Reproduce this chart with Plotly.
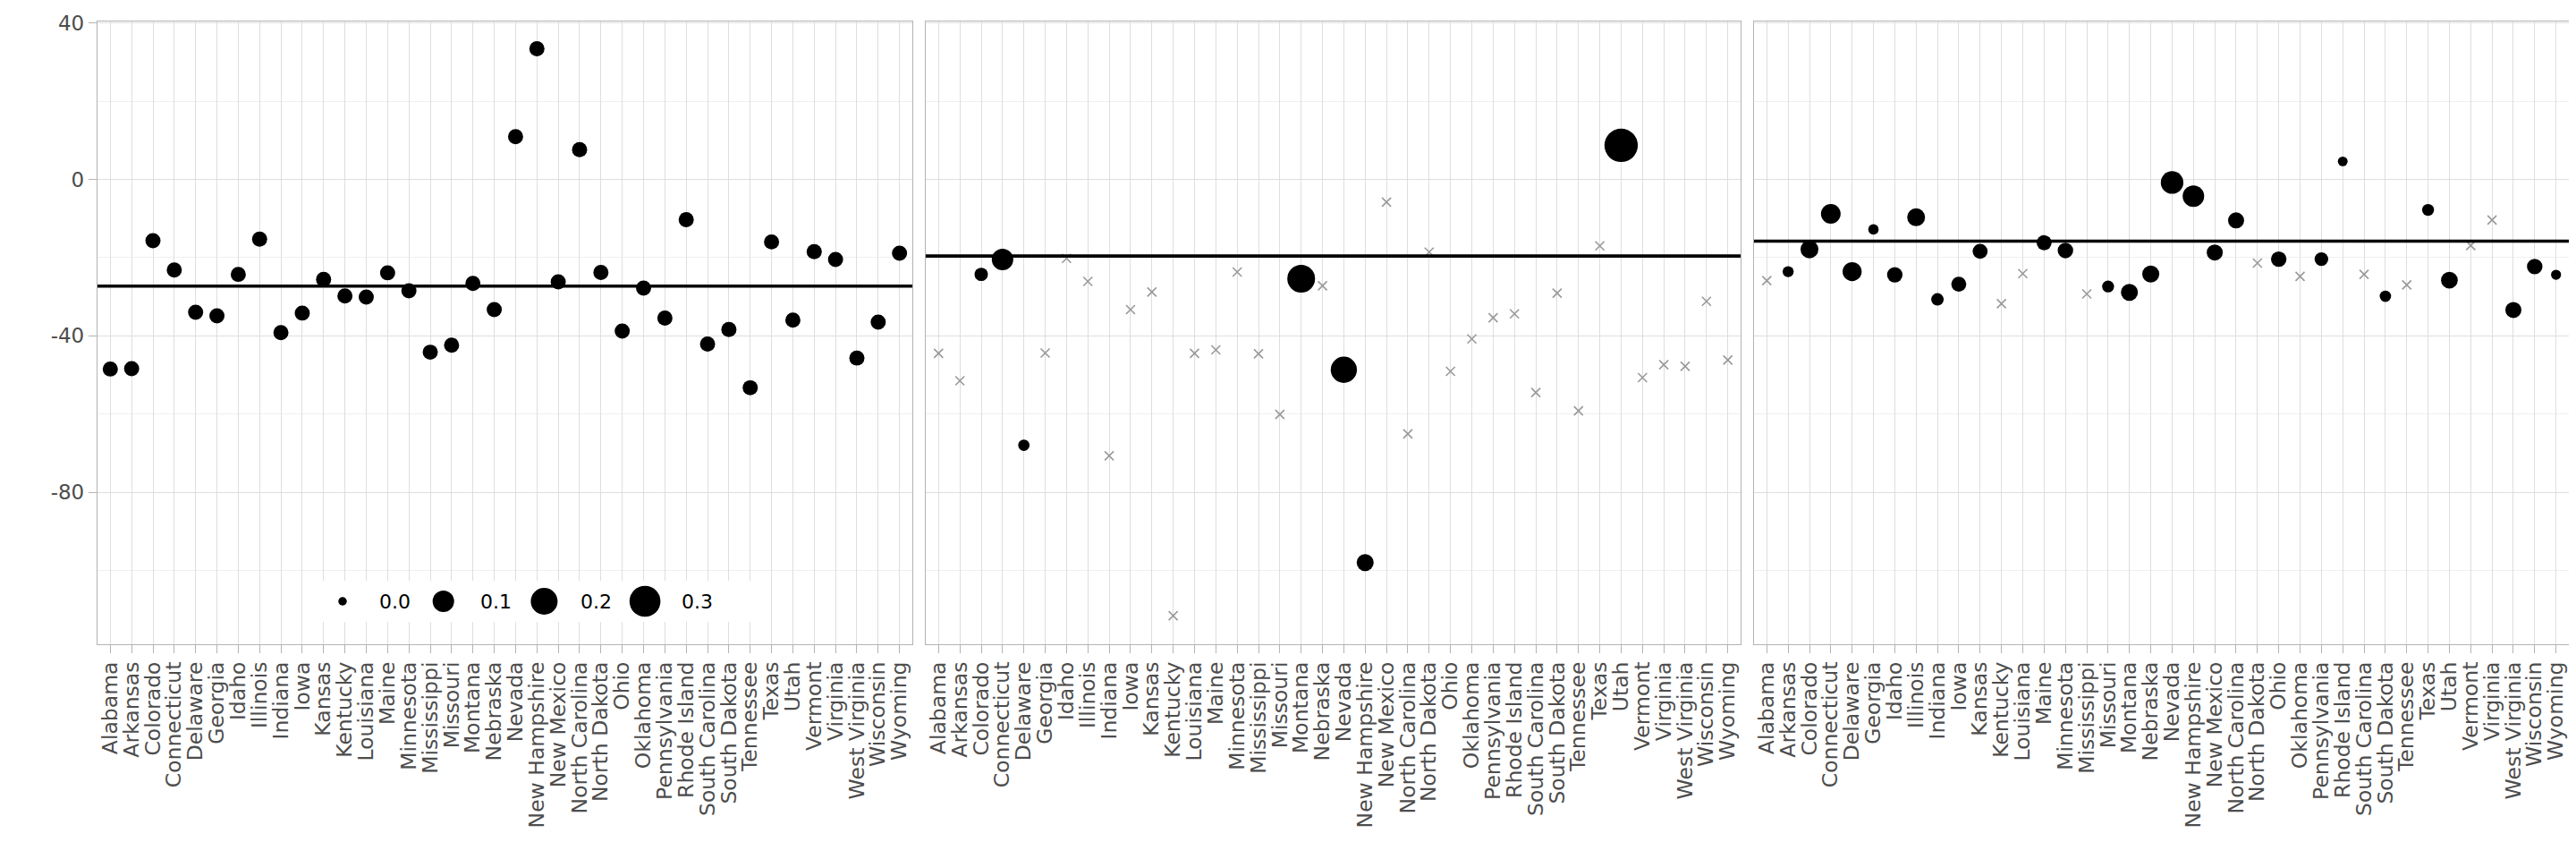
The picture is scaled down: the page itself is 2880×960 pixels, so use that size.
import numpy as np
import plotly.graph_objects as go

# ---------------- data ----------------
states = ["Alabama", "Arkansas", "Colorado", "Connecticut", "Delaware", "Georgia", "Idaho",
          "Illinois", "Indiana", "Iowa", "Kansas", "Kentucky", "Louisiana", "Maine",
          "Minnesota", "Mississippi", "Missouri", "Montana", "Nebraska", "Nevada",
          "New Hampshire", "New Mexico", "North Carolina", "North Dakota", "Ohio",
          "Oklahoma", "Pennsylvania", "Rhode Island", "South Carolina", "South Dakota",
          "Tennessee", "Texas", "Utah", "Vermont", "Virginia", "West Virginia",
          "Wisconsin", "Wyoming"]

# panel 1
values_1 = [-48.5, -48.4, -15.7, -23.2, -34.0, -34.9, -24.3, -15.3, -39.2, -34.2, -25.6,
            -29.8, -30.1, -23.9, -28.5, -44.2, -42.4, -26.6, -33.3, 10.9, 33.4, -26.2,
            7.6, -23.8, -38.8, -27.8, -35.5, -10.3, -42.1, -38.4, -53.3, -16.0, -36.0,
            -18.5, -20.5, -45.7, -36.5, -18.9]
weights_1 = [0.0263] * 38
mean_1 = -27.3

# panel 2
values_2 = [-44.5, -51.5, -24.3, -20.5, -68.0, -44.4, -20.2, -26.1, -70.7, -33.3, -28.8,
            -111.6, -44.5, -43.6, -23.7, -44.6, -60.1, -25.4, -27.2, -48.7, -98.0, -5.8,
            -65.1, -18.6, -49.1, -40.8, -35.4, -34.4, -54.5, -29.1, -59.2, -17.0, 8.7,
            -50.7, -47.4, -47.8, -31.2, -46.2]
weights_2 = [0, 0, 0.014, 0.10, 0.005, 0, 0, 0, 0, 0, 0, 0, 0, 0, 0, 0, 0, 0.22, 0,
             0.186, 0.043, 0, 0, 0, 0, 0, 0, 0, 0, 0, 0, 0, 0.367, 0, 0, 0, 0, 0]
mean_2 = -19.6

# panel 3
values_3 = [-25.9, -23.6, -17.9, -8.8, -23.6, -12.8, -24.4, -9.7, -30.7, -26.8, -18.4,
            -31.8, -24.1, -16.2, -18.2, -29.3, -27.4, -28.9, -24.2, -0.8, -4.3, -18.7,
            -10.5, -21.4, -20.4, -24.8, -20.4, 4.6, -24.3, -29.9, -27.0, -7.8, -25.8,
            -16.9, -10.4, -33.4, -22.3, -24.4]
weights_3 = [0, 0.004, 0.052, 0.074, 0.066, 0.002, 0.029, 0.052, 0.0096, 0.025, 0.025,
             0, 0, 0.025, 0.029, 0, 0.007, 0.043, 0.043, 0.118, 0.10, 0.034, 0.034, 0,
             0.029, 0, 0.016, 0.001, 0, 0.005, 0, 0.007, 0.040, 0, 0, 0.034, 0.029, 0.0015]
mean_3 = -15.8

y_tick_vals = [-80, -40, 0, 40]
y_tick_text = ["-80", "-40", "0", "40"]
legend_breaks = [0.0, 0.1, 0.2, 0.3]

# ---------------- layout helpers ----------------
W, H = 2880, 960
panel_left = [101, 1027, 1953]
panel_w = 911
panel_top, panel_bot = 15.5, 712
Y_RANGE = [-118.9, 40.5]
X_RANGE = [-0.6, len(states) - 1 + 0.6]

FONT = "DejaVu Sans"
AX_TEXT = "#4d4d4d"
BORDER = "#b3b3b3"
GRID = "#dedede"
MINOR = "#efefef"


def size_scale(w):
    # area-like size scale (ggplot scale_size): diameter in px
    return 9.5 + 45.9 * np.sqrt(np.asarray(w, dtype=float))


panels = [(values_1, weights_1, mean_1), (values_2, weights_2, mean_2),
          (values_3, weights_3, mean_3)]

fig = go.Figure()
shapes = []
for k, (vals, wts, mu) in enumerate(panels):
    xa = "x" if k == 0 else f"x{k+1}"
    ya = "y" if k == 0 else f"y{k+1}"
    zero_idx = [i for i, w in enumerate(wts) if w <= 0]
    dot_idx = [i for i, w in enumerate(wts) if w > 0]
    fig.add_trace(go.Scatter(
        x=[states[i] for i in zero_idx], y=[vals[i] for i in zero_idx],
        mode="markers", xaxis=xa, yaxis=ya, showlegend=False, hoverinfo="skip",
        marker=dict(symbol="x-thin", size=10, color="#999999", opacity=1,
                    line=dict(color="#999999", width=1.6))))
    fig.add_trace(go.Scatter(
        x=[states[i] for i in dot_idx], y=[vals[i] for i in dot_idx],
        mode="markers", xaxis=xa, yaxis=ya, showlegend=False,
        marker=dict(symbol="circle", color="black", opacity=1,
                    size=size_scale([wts[i] for i in dot_idx]).tolist(),
                    line=dict(width=0))))
    shapes.append(dict(type="line", xref=f"{xa} domain", x0=0, x1=1, yref=ya,
                       y0=mu, y1=mu, line=dict(color="black", width=3.6), layer="above"))

    xdom = [panel_left[k] / W, (panel_left[k] + panel_w) / W]
    ydom = [1 - panel_bot / H, 1 - panel_top / H]
    xkey = "xaxis" if k == 0 else f"xaxis{k+1}"
    ykey = "yaxis" if k == 0 else f"yaxis{k+1}"
    fig.update_layout(**{
        xkey: dict(domain=xdom, anchor=ya, type="category",
                   categoryorder="array", categoryarray=states, range=X_RANGE,
                   tickmode="array", tickvals=states, ticktext=states,
                   tickangle=-90, ticks="outside", ticklen=9, tickwidth=1.3,
                   tickcolor=BORDER, showgrid=True, gridcolor=GRID, gridwidth=1.3,
                   showline=True, mirror=True, linecolor=BORDER, linewidth=1.3,
                   zeroline=False, automargin=False,
                   tickfont=dict(family=FONT, size=23.5, color=AX_TEXT)),
        ykey: dict(domain=ydom, anchor=xa, range=Y_RANGE,
                   tickmode="array", tickvals=y_tick_vals, ticktext=y_tick_text,
                   showticklabels=(k == 0), ticks="outside" if k == 0 else "",
                   ticklen=9, tickwidth=1.3, tickcolor=BORDER,
                   showgrid=True, gridcolor=GRID, gridwidth=1.3,
                   minor=dict(dtick=20, tick0=0, showgrid=True, gridcolor=MINOR,
                              gridwidth=1, ticks=""),
                   showline=True, mirror=True, linecolor=BORDER, linewidth=1.3,
                   zeroline=False, automargin=False,
                   tickfont=dict(family=FONT, size=23, color=AX_TEXT)),
    })

# ---------------- manual size legend (inside panel 1, bottom) ----------------
leg_left, leg_right, leg_top, leg_bot = 353, 736, 641, 687
leg_w, leg_h = leg_right - leg_left, leg_bot - leg_top
leg_span = 500  # drawing area for the legend overlay axis (px)
item_step = 112.7
key_x = [22 + item_step * i for i in range(len(legend_breaks))]
fig.update_layout(
    xaxis4=dict(domain=[leg_left / W, (leg_left + leg_span) / W], range=[0, leg_span],
                visible=False, anchor="y4", fixedrange=True),
    yaxis4=dict(domain=[1 - leg_bot / H, 1 - leg_top / H], range=[0, leg_h],
                visible=False, anchor="x4", fixedrange=True),
)
# white legend background box
fig.add_trace(go.Scatter(
    x=[0, leg_w, leg_w, 0, 0], y=[0, 0, leg_h, leg_h, 0], xaxis="x4", yaxis="y4",
    mode="lines", fill="toself", fillcolor="white", line=dict(width=0, color="white"),
    showlegend=False, hoverinfo="skip"))
fig.add_trace(go.Scatter(
    x=key_x, y=[leg_h / 2] * len(legend_breaks), xaxis="x4", yaxis="y4",
    mode="markers", showlegend=False, hoverinfo="skip",
    marker=dict(color="black", opacity=1, size=size_scale(legend_breaks).tolist(),
                line=dict(width=0))))
annotations = [dict(x=kx + 39, y=leg_h / 2, xref="x4", yref="y4", text=f"{b:.1f}",
                    showarrow=False, xanchor="left", yanchor="middle",
                    font=dict(family=FONT, size=22, color="black"))
               for kx, b in zip(key_x, legend_breaks)]

fig.update_layout(
    width=W, height=H, margin=dict(l=0, r=0, t=0, b=0),
    paper_bgcolor="white", plot_bgcolor="white",
    shapes=shapes, annotations=annotations, showlegend=False,
    font=dict(family=FONT, color=AX_TEXT),
)

fig.write_html("out.html")
